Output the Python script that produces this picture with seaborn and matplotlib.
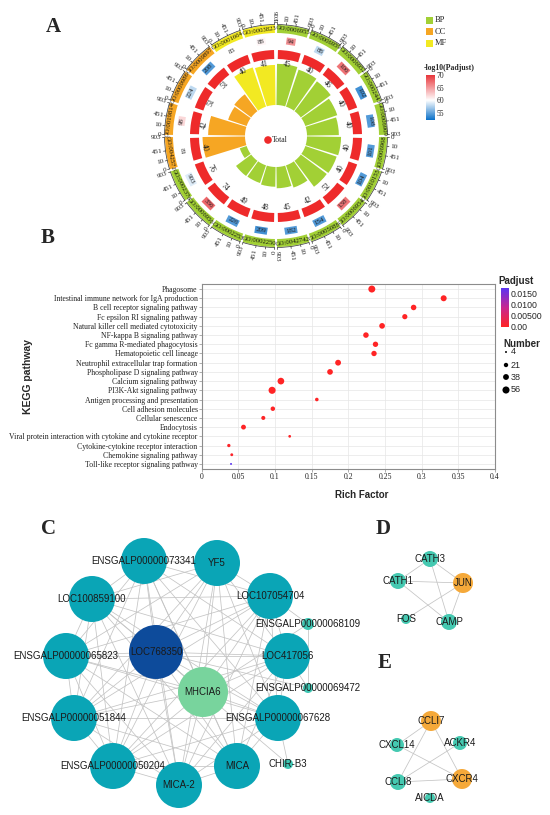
import itertools
import numpy as np
import pandas as pd
import matplotlib
matplotlib.use("Agg")
import matplotlib.pyplot as plt
import seaborn as sns
from matplotlib.patches import Wedge, Circle, Rectangle, Arc
from matplotlib.colors import LinearSegmentedColormap, Normalize
from matplotlib.cm import ScalarMappable

W, H = 550, 815
SERIF = "Liberation Serif"
SANS = "Liberation Sans"

# -------------------------------
# DATA: panel A (GO circle)
# -------------------------------
go_ids = ["GO:0006955", "GO:0006959", "GO:0006952", "GO:0002443", "GO:0006909",
          "GO:0006968", "GO:0010155", "GO:0006954", "GO:0005088", "GO:0042742",
          "GO:0002250", "GO:0002253", "GO:0006956", "GO:0002376", "GO:0042571",
          "GO:0019814", "GO:0009986", "GO:0009897", "GO:0001664", "GO:0003823"]
go_class = ["BP", "BP", "BP", "BP", "BP", "BP", "BP", "BP", "BP", "BP",
            "BP", "BP", "BP", "BP", "CC", "CC", "CC", "CC", "MF", "MF"]
go_deg = [45, 40, 46, 40, 40, 40, 40, 52, 42, 45, 48, 49, 74, 76, 40, 42, 51, 51, 40, 41]
go_bg = [94, 88, 106, 102, 108, 101, 104, 138, 154, 182, 209, 226, 336, 903, 81, 98, 224, 208, 83, 88]
go_logp = [65.5, 58.0, 67.0, 54.0, 54.5, 54.5, 54.5, 67.0, 54.5, 54.5,
           54.0, 54.5, 67.5, 59.0, 60.0, 62.0, 58.0, 54.5, 60.0, 60.5]
go_tick_labels = ["0", "10", "451", "903"]
class_names = ["BP", "CC", "MF"]
class_colors = {"BP": "#a2d035", "CC": "#f6a623", "MF": "#f2e922"}
logp_ticks = [55, 60, 65, 70]

# -------------------------------
# DATA: panel B (KEGG dot plot)
# -------------------------------
kegg_terms = ["Phagosome",
              "Intestinal immune network for IgA production",
              "B cell receptor signaling pathway",
              "Fc epsilon RI signaling pathway",
              "Natural killer cell mediated cytotoxicity",
              "NF-kappa B signaling pathway",
              "Fc gamma R-mediated phagocytosis",
              "Hematopoietic cell lineage",
              "Neutrophil extracellular trap formation",
              "Phospholipase D signaling pathway",
              "Calcium signaling pathway",
              "PI3K-Akt signaling pathway",
              "Antigen processing and presentation",
              "Cell adhesion molecules",
              "Cellular senescence",
              "Endocytosis",
              "Viral protein interaction with cytokine and cytokine receptor",
              "Cytokine-cytokine receptor interaction",
              "Chemokine signaling pathway",
              "Toll-like receptor signaling pathway"]
kegg_rich = [0.232, 0.330, 0.289, 0.277, 0.246, 0.224, 0.237, 0.235, 0.186, 0.175,
             0.108, 0.096, 0.157, 0.097, 0.084, 0.057, 0.120, 0.037, 0.041, 0.040]
kegg_count = [54, 40, 34, 30, 36, 34, 32, 32, 38, 36,
              50, 56, 14, 22, 18, 26, 8, 12, 9, 4]
kegg_padj = [0.0001, 0.0001, 0.0001, 0.0001, 0.0001, 0.0001, 0.0001, 0.0001, 0.0001, 0.0001,
             0.0001, 0.0001, 0.0002, 0.0002, 0.0003, 0.0002, 0.0004, 0.0005, 0.0006, 0.0177]
padj_ticks = [0.0, 0.005, 0.010, 0.015]
padj_tick_labels = ["0.00", "0.00500", "0.0100", "0.0150"]
number_breaks = [4, 21, 38, 56]
x_ticks = [0, 0.05, 0.1, 0.15, 0.2, 0.25, 0.3, 0.35, 0.4]
x_tick_labels = ["0", "0.05", "0.1", "0.15", "0.2", "0.25", "0.3", "0.35", "0.4"]

# -------------------------------
# DATA: panels C, D, E (networks)
# -------------------------------
c_nodes = ["ENSGALP00000073341", "YF5", "LOC100859100", "LOC107054704",
           "ENSGALP00000065823", "LOC768350", "MHCIA6", "LOC417056",
           "ENSGALP00000051844", "ENSGALP00000067628", "ENSGALP00000050204",
           "MICA", "MICA-2", "ENSGALP00000068109", "ENSGALP00000069472", "CHIR-B3"]
c_x = [144, 217, 92, 270, 66, 156, 203, 287, 74, 278, 113, 237, 179, 308, 308, 288]
c_y = [561, 563, 599, 596, 656, 652, 692, 656, 718, 718, 766, 766, 785, 624, 688, 764]
c_r = [23, 23, 23, 23, 23, 27, 25, 23, 23, 23, 23, 23, 23, 6, 5, 5]
c_color = ["#0aa5b6"] * 5 + ["#0d4b9b", "#78d49d"] + ["#0aa5b6"] * 6 + ["#3fc6b3"] * 3
c_core = c_nodes[:13]
c_extra_edges = [("ENSGALP00000068109", "LOC107054704"), ("ENSGALP00000068109", "ENSGALP00000069472"),
                 ("ENSGALP00000068109", "MHCIA6"), ("ENSGALP00000069472", "LOC417056"),
                 ("ENSGALP00000069472", "LOC768350"), ("CHIR-B3", "ENSGALP00000067628"),
                 ("CHIR-B3", "LOC768350")]

d_nodes = ["CATH3", "CATH1", "JUN", "FOS", "CAMP"]
d_x = [430, 398, 463, 406, 449]
d_y = [559, 581, 583, 619, 622]
d_r = [8, 8, 10, 5, 8]
d_color = ["#45c9b1", "#45c9b1", "#f5a93a", "#45c9b1", "#45c9b1"]
d_edges = [("CATH3", "CATH1"), ("CATH3", "JUN"), ("CATH3", "CAMP"), ("CATH1", "JUN"),
           ("CATH1", "CAMP"), ("FOS", "JUN"), ("JUN", "CAMP")]

e_nodes = ["CCLI7", "CXCL14", "ACKR4", "CCLI8", "CXCR4", "AICDA"]
e_x = [431, 397, 460, 398, 462, 430]
e_y = [721, 745, 743, 782, 779, 798]
e_r = [10, 7, 7, 8, 10, 5]
e_color = ["#f5a93a", "#45c9b1", "#45c9b1", "#45c9b1", "#f5a93a", "#45c9b1"]
e_edges = [("CCLI7", "CXCL14"), ("CCLI7", "CXCR4"), ("CCLI7", "CCLI8"), ("ACKR4", "CCLI8"),
           ("CXCL14", "CXCR4"), ("CCLI8", "CXCR4")]

# -------------------------------
# FIGURE
# -------------------------------
sns.set_theme(style="white")
plt.rcParams["font.family"] = [SANS, "DejaVu Sans"]

fig = plt.figure(figsize=(W / 100, H / 100), dpi=100)
ov = fig.add_axes([0, 0, 1, 1])
ov.set_xlim(0, W)
ov.set_ylim(0, H)
ov.axis("off")


def box(x, y, w, h):
    """pixel box (top-left origin) -> figure fraction"""
    return [x / W, 1 - (y + h) / H, w / W, h / H]


# ---------- panel A ----------
cx, cy = 276, 136
C0 = (cx, H - cy)


def polar(r, th):
    t = np.deg2rad(th)
    return cx + r * np.sin(t), H - cy + r * np.cos(t)


def tang(th):
    rot = -th
    if 90 < th < 270:
        rot += 180
    return rot


def wedge(r_out, r_in, t0, t1, color):
    ov.add_patch(Wedge(C0, r_out, 90 - t1, 90 - t0, width=r_out - r_in, fc=color, ec="none"))


lp_cmap = LinearSegmentedColormap.from_list("lp", [(0, "#0a70c8"), (0.44, "#ffffff"), (1, "#e8363b")])
lp_norm = Normalize(52.2, 70)

seg = 360 / len(go_ids)
tick_offsets = [0.8, 5.3, 10.3, 17.2]
for i in range(len(go_ids)):
    t0, t1 = i * seg, (i + 1) * seg
    mid = (t0 + t1) / 2
    col = class_colors[go_class[i]]
    ratio = go_deg[i] / go_bg[i]
    wedge(31 + ratio * 86, 31, t0 + 0.8, t1 - 0.8, col)
    wedge(86, 77, t0 + 1.3, t1 - 1.3, "#ee2a2a")
    x, y = polar(72.5, mid)
    ov.text(x, y, str(go_deg[i]), rotation=tang(mid), rotation_mode="anchor",
            ha="center", va="center", fontsize=5.6, family=SERIF, color="#222222")
    x, y = polar(95.5, mid)
    ov.text(x, y, str(go_bg[i]), rotation=tang(mid), rotation_mode="anchor",
            ha="center", va="center", fontsize=5, family=SERIF, color="#222222",
            bbox=dict(boxstyle="square,pad=0.15", fc=lp_cmap(lp_norm(go_logp[i])), ec="none"))
    wedge(111, 103, t0 + 0.6, t1 - 0.6, col)
    x, y = polar(107, mid)
    ov.text(x, y, go_ids[i], rotation=tang(mid), rotation_mode="anchor",
            ha="center", va="center", fontsize=4.8, family=SERIF, color="#111111")
    ov.add_patch(Arc(C0, 223, 223, theta1=90 - (t1 - 0.6), theta2=90 - (t0 + 0.6),
                     lw=0.5, color="#333333"))
    for off, lab in zip(tick_offsets, go_tick_labels):
        th = t0 + off
        xa, ya = polar(111.5, th)
        xb, yb = polar(113.5, th)
        ov.plot([xa, xb], [ya, yb], color="#333333", lw=0.5)
        xt, yt = polar(114.5, th)
        rot = 90 - th
        ha = "left"
        if th > 180:
            rot += 180
            ha = "right"
        ov.text(xt, yt, lab, rotation=rot, rotation_mode="anchor", ha=ha, va="center",
                fontsize=5.1, family=SERIF, color="#222222")

ov.scatter([268], [H - 140], s=30, color="#ee2a2a", edgecolor="none")
ov.text(272, H - 140, "Total", ha="left", va="center", fontsize=5.6, family=SERIF)

# legend A
for j, name in enumerate(class_names):
    yy = [20, 31.5, 43][j]
    ov.add_patch(Rectangle((426, H - yy - 3.5), 7, 7, fc=class_colors[name], ec="none"))
    ov.text(435, H - yy, name, ha="left", va="center", fontsize=6, family=SERIF)
ov.text(424, H - 68, "-log10(Padjust)", ha="left", va="center", fontsize=5.6,
        family=SERIF, fontweight="bold")
cax_a = fig.add_axes(box(426, 75, 9, 45))
cb_a = fig.colorbar(ScalarMappable(norm=lp_norm, cmap=lp_cmap), cax=cax_a, ticks=logp_ticks)
cb_a.outline.set_visible(False)
cax_a.tick_params(length=0, labelsize=5.5, pad=1)
for t in cax_a.get_yticklabels():
    t.set_family(SERIF)

# ---------- panel B ----------
axB = fig.add_axes(box(201.7, 284, 293.3, 185))
df = pd.DataFrame({"term": kegg_terms, "rich": kegg_rich, "count": kegg_count, "padj": kegg_padj})
pj_cmap = LinearSegmentedColormap.from_list("pj", ["#ff2424", "#c8268f", "#5a34f2"])
pj_norm = Normalize(0, 0.0177)
SIZES = (2, 26)
sns.scatterplot(data=df, x="rich", y="term", hue="padj", size="count", palette=pj_cmap,
                hue_norm=pj_norm, sizes=SIZES, size_norm=(4, 56), legend=False,
                edgecolor="none", ax=axB, zorder=3)
axB.set_xlim(0, 0.4)
axB.set_ylim(len(kegg_terms) - 0.45, -0.55)
axB.set_xticks(x_ticks)
axB.set_xticklabels(x_tick_labels)
axB.set_xlabel("")
axB.set_ylabel("")
axB.grid(True, color="#e6e6e6", lw=0.5)
axB.set_axisbelow(True)
for sp in axB.spines.values():
    sp.set_color("#8c8c8c")
    sp.set_linewidth(0.8)
axB.tick_params(axis="both", length=2, width=0.5, color="#8c8c8c", labelsize=5.6,
                pad=1, labelcolor="#222222", left=True, bottom=True)
for t in axB.get_xticklabels() + axB.get_yticklabels():
    t.set_family(SERIF)

ov.text(28, H - 377, "KEGG pathway", rotation=90, ha="center", va="center",
        fontsize=7.5, fontweight="bold", family=SANS)
ov.text(362, H - 495, "Rich Factor", ha="center", va="center", fontsize=7,
        fontweight="bold", family=SANS)

# legends B
ov.text(516, H - 281, "Padjust", ha="center", va="center", fontsize=7, fontweight="bold", family=SANS)
cax_b = fig.add_axes(box(501, 288, 8, 39))
cb_b = fig.colorbar(ScalarMappable(norm=pj_norm, cmap=pj_cmap), cax=cax_b, ticks=padj_ticks)
cb_b.outline.set_visible(False)
cb_b.ax.set_yticklabels(padj_tick_labels)
cax_b.tick_params(length=0, labelsize=6.3, pad=1.5)
ov.text(522, H - 344, "Number", ha="center", va="center", fontsize=7, fontweight="bold", family=SANS)
for v, yy in zip(number_breaks, [352, 365, 377, 390]):
    s = SIZES[0] + (v - 4) / 52 * (SIZES[1] - SIZES[0])
    ov.scatter([506], [H - yy], s=s, color="black", edgecolor="none")
    ov.text(511, H - yy, str(v), ha="left", va="center", fontsize=6.5, family=SANS)


# ---------- panels C, D, E ----------
def draw_net(names, xs, ys, rs, cols, edges, fs=7):
    pos = {n: (x, H - y) for n, x, y in zip(names, xs, ys)}
    for a, b in edges:
        ov.plot([pos[a][0], pos[b][0]], [pos[a][1], pos[b][1]], color="#c4c4c4",
                lw=0.55, zorder=1)
    for n, r, c in zip(names, rs, cols):
        ov.add_patch(Circle(pos[n], r, fc=c, ec="none", zorder=2))
        ov.text(pos[n][0], pos[n][1], n, ha="center", va="center", fontsize=fs,
                family=SANS, color="#1a1a1a", zorder=3)


c_edges = list(itertools.combinations(c_core, 2)) + c_extra_edges
draw_net(c_nodes, c_x, c_y, c_r, c_color, c_edges)
draw_net(d_nodes, d_x, d_y, d_r, d_color, d_edges)
draw_net(e_nodes, e_x, e_y, e_r, e_color, e_edges)

# panel letters
for lab, (x, y) in zip("ABCDE", [(53, 27), (48, 238), (49, 529), (383, 529), (385, 663)]):
    ov.text(x, H - y, lab, ha="center", va="center", fontsize=15, fontweight="bold", family=SERIF)

fig.savefig("out.png", dpi=100)
